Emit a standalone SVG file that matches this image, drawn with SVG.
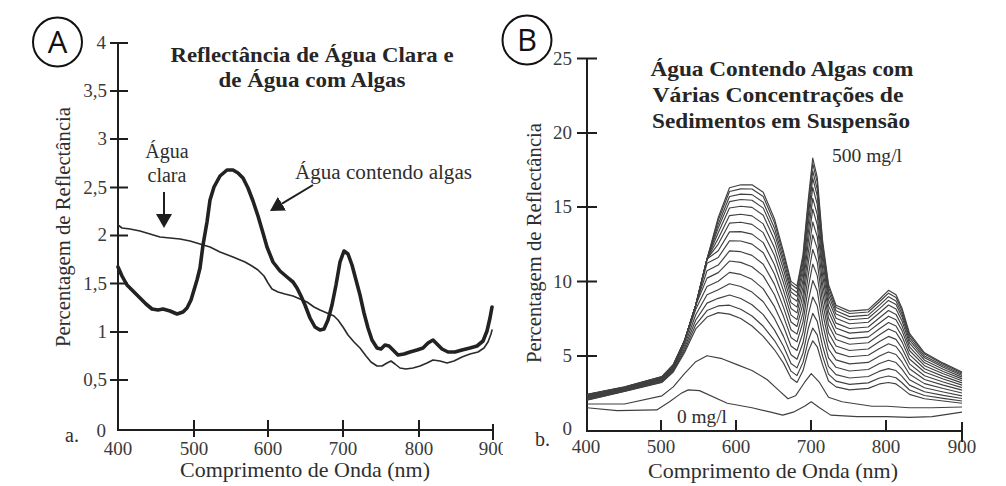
<svg xmlns="http://www.w3.org/2000/svg" width="1006" height="486" viewBox="0 0 1006 486">
<style>
.ax{stroke:#1e1e1e;stroke-width:2;fill:none}
.tk{font-family:"Liberation Serif","Times New Roman",serif;font-size:19px;fill:#3a3a3a}
.tkr{text-anchor:end}
.tkm{text-anchor:middle}
.ttl{font-family:"Liberation Serif","Times New Roman",serif;font-weight:bold;fill:#262626;text-anchor:middle}
.lbl{font-family:"Liberation Serif","Times New Roman",serif;fill:#2e2e2e}
.circ{fill:none;stroke:#111;stroke-width:2}
.circt{font-family:"Open Sans","Noto Sans",sans-serif;font-size:31px;fill:#111;text-anchor:middle}
.thin{fill:none;stroke:#2a2a2a;stroke-width:1.6;stroke-linejoin:round;stroke-linecap:round}
.thick{fill:none;stroke:#222;stroke-width:3.6;stroke-linejoin:round;stroke-linecap:round}
.fam{fill:none;stroke:#404040;stroke-width:1.15;stroke-linejoin:round;vector-effect:non-scaling-stroke}
.arr{stroke:#1e1e1e;stroke-width:2;fill:none}
</style>
<defs>
<marker id="ah" markerUnits="userSpaceOnUse" markerWidth="14" markerHeight="16" viewBox="0 0 14 16" refX="0" refY="8" orient="auto">
<path d="M0,0 L14,8 L0,16 z" fill="#1e1e1e"/>
</marker>
<clipPath id="clipA"><rect x="0" y="0" width="503" height="486"/></clipPath>
</defs>
<rect x="0" y="0" width="1006" height="486" fill="#ffffff"/>

<g id="panel-a">
  <g id="badge-a">
    <circle class="circ" cx="57.5" cy="42" r="24.5"/>
    <text class="circt" x="57.5" y="53">A</text>
  </g>
  <g id="title-a">
    <text class="ttl" x="312" y="62" font-size="22" textLength="283" lengthAdjust="spacingAndGlyphs">Reflectância de Água Clara e</text>
    <text class="ttl" x="312" y="87" font-size="22" textLength="187" lengthAdjust="spacingAndGlyphs">de Água com Algas</text>
  </g>
  <g id="axes-a">
    <path class="ax" d="M118,43 V431 M117,430 H493"/>
    <path class="ax" d="M110,43 H128 M110,91 H128 M110,139 H128 M110,187.5 H128 M110,235.5 H128 M110,283.5 H128 M110,332 H128 M110,380 H128"/>
    <path class="ax" d="M194,420 V437 M268,420 V437 M343,420 V437 M419,420 V437 M493,424 V440"/>
    <text class="tk tkr" x="106" y="49" font-size="16">4</text>
    <text class="tk tkr" x="107" y="97">3,5</text>
    <text class="tk tkr" x="107" y="145">3</text>
    <text class="tk tkr" x="107" y="194">2,5</text>
    <text class="tk tkr" x="107" y="241">2</text>
    <text class="tk tkr" x="107" y="290">1,5</text>
    <text class="tk tkr" x="107" y="338">1</text>
    <text class="tk tkr" x="107" y="386">0,5</text>
    <text class="tk tkr" x="106" y="437">0</text>
    <text class="tk tkm" x="118" y="455">400</text>
    <text class="tk tkm" x="194" y="455">500</text>
    <text class="tk tkm" x="268" y="455">600</text>
    <text class="tk tkm" x="343" y="455">700</text>
    <text class="tk tkm" x="419" y="455">800</text>
    <text class="tk tkm" x="493" y="455" clip-path="url(#clipA)">900</text>
    <text class="lbl" x="65" y="442" font-size="20">a.</text>
    <text class="lbl" x="305" y="477" font-size="22" text-anchor="middle" textLength="250" lengthAdjust="spacingAndGlyphs">Comprimento de Onda (nm)</text>
    <text class="lbl" transform="translate(70,227) rotate(-90)" font-size="21" text-anchor="middle" textLength="240" lengthAdjust="spacingAndGlyphs">Percentagem de Reflectância</text>
  </g>
  <g id="curve-clear-water">
    <polyline class="thin" points="118,225 122,228 130,229 140,231 150,234 160,237 170,238 180,239 190,241 200,244 210,247 220,252 233,257 245,262 252,266 258,270 264,276 268,283 272,289 278,292 285,294 293,296 300,299 307,302 314,307 320,310 327,313 334,316 338,320 343,327 348,335 354,342 360,348 366,356 371,362 377,366 382,366 387,363 391,361 395,364 400,368 406,369 413,368 420,366 427,363 433,360 440,361 447,363 454,361 462,357 470,354 478,352 484,348 488,342 491,334 492,330"/>
  </g>
  <g id="curve-algae-water">
    <polyline class="thick" points="118,267 122,276 127,285 134,292 140,298 146,304 152,309 158,310 163,309 170,311 177,314 183,312 187,308 191,300 194,290 197,280 200,268 203,245 207,222 210,200 214,187 220,176 227,170 233,170 238,173 243,178 248,188 253,201 258,216 263,233 267,247 273,262 280,271 287,277 293,282 297,288 301,296 305,305 310,318 315,327 320,330 324,329 328,320 332,305 336,285 340,262 344,251 348,254 352,265 356,280 360,295 364,313 368,328 372,340 377,348 381,349 385,345 389,346 393,350 398,355 404,354 410,352 417,350 423,348 428,343 433,340 437,344 442,349 448,352 455,352 462,350 470,348 477,346 483,341 487,331 490,318 492,307"/>
  </g>
  <g id="label-clear">
    <text class="lbl" x="167" y="158" font-size="20" text-anchor="middle">Água</text>
    <text class="lbl" x="167" y="182" font-size="20" text-anchor="middle">clara</text>
  </g>
  <g id="label-algae">
    <text class="lbl" x="295" y="179" font-size="20" textLength="177" lengthAdjust="spacingAndGlyphs">Água contendo algas</text>
  </g>
</g>

<g id="connectors">
  <line class="arr" x1="164" y1="192" x2="164" y2="214" marker-end="url(#ah)"/>
  <line class="arr" x1="313" y1="185" x2="282" y2="203.7" marker-end="url(#ah)"/>
</g>

<g id="panel-b">
  <g id="badge-b">
    <circle class="circ" cx="527" cy="40" r="24.5"/>
    <text class="circt" x="527" y="51">B</text>
  </g>
  <g id="title-b">
    <text class="ttl" x="782" y="76" font-size="21" textLength="263" lengthAdjust="spacingAndGlyphs">Água Contendo Algas com</text>
    <text class="ttl" x="778" y="102" font-size="21" textLength="251" lengthAdjust="spacingAndGlyphs">Várias Concentrações de</text>
    <text class="ttl" x="781" y="128" font-size="21" textLength="258" lengthAdjust="spacingAndGlyphs">Sedimentos em Suspensão</text>
  </g>
  <g id="axes-b">
    <path class="ax" d="M587,58 V432 M586,431 H962"/>
    <path class="ax" d="M577,58.5 H597 M577,133 H597 M577,207 H597 M577,281.5 H597 M577,356 H597"/>
    <path class="ax" d="M661,420 V432 M736,420 V432 M811,420 V432 M886,420 V432 M962,422 V442"/>
    <text class="tk tkr" x="572" y="65">25</text>
    <text class="tk tkr" x="572" y="139">20</text>
    <text class="tk tkr" x="572" y="213">15</text>
    <text class="tk tkr" x="572" y="288">10</text>
    <text class="tk tkr" x="572" y="362">5</text>
    <text class="tk tkr" x="572" y="435">0</text>
    <text class="tk tkm" x="586" y="453">400</text>
    <text class="tk tkm" x="661" y="453">500</text>
    <text class="tk tkm" x="736" y="453">600</text>
    <text class="tk tkm" x="811" y="453">700</text>
    <text class="tk tkm" x="886" y="453">800</text>
    <text class="tk tkm" x="962" y="453">900</text>
    <text class="lbl" x="535" y="446" font-size="20">b.</text>
    <text class="lbl" x="773" y="478" font-size="22" text-anchor="middle" textLength="250" lengthAdjust="spacingAndGlyphs">Comprimento de Onda (nm)</text>
    <text class="lbl" transform="translate(541,243) rotate(-90)" font-size="21" text-anchor="middle" textLength="240" lengthAdjust="spacingAndGlyphs">Percentagem de Reflectância</text>
  </g>
  <g id="curves-b" transform="translate(587,430) scale(0.75,-14.86)">
    <polyline class="fam" points="0,1.5 40,1.3 93,1.35 110,1.9 125,2.45 135,2.7 150,2.65 187,1.8 220,1.5 245,1.2 261,1.0 275,1.2 290,1.6 299,1.9 310,1.5 325,1.0 360,0.9 400,0.9 430,0.85 460,0.9 500,1.2"/>
    <polyline class="fam" points="0,1.75 50,1.75 100,2.3 115,2.9 130,3.8 145,4.6 160,5.0 180,4.8 200,4.4 220,4.0 240,3.4 255,2.7 268,2.1 278,2.3 290,3.2 299,3.8 310,3.2 322,2.2 340,1.9 360,1.75 380,1.6 400,1.6 430,1.5 460,1.5 500,1.55"/>
    <polyline class="fam" points="0,2.0 50,2.6 100,3.2 115,3.9 130,5.2 145,6.8 160,7.6 175,7.9 190,7.8 205,7.5 220,7.0 235,6.3 250,5.4 262,4.5 272,3.5 280,3.2 288,4.0 295,5.3 301,6.0 307,5.6 314,4.4 322,3.3 332,2.9 350,2.7 375,2.8 390,3.1 402,3.2 412,3.1 420,2.8 430,2.4 450,2.1 475,1.95 500,1.8"/>
    <polyline class="fam" points="0,2.03 50,2.62 100,3.23 115,3.94 130,5.34 145,7.08 160,8.04 175,8.35 190,8.4 205,8.13 220,7.67 235,6.98 250,6.02 262,5.03 272,3.96 280,3.66 288,4.55 295,6.01 301,6.86 307,6.4 314,4.99 322,3.76 332,3.29 350,3.07 375,3.17 390,3.5 402,3.63 412,3.52 420,3.18 430,2.69 450,2.32 475,2.13 500,1.95"/>
    <polyline class="fam" points="0,2.06 50,2.65 100,3.26 115,3.98 130,5.5 145,7.4 160,8.54 175,8.86 190,9.08 205,8.85 220,8.43 235,7.76 250,6.72 262,5.63 272,4.48 280,4.18 288,5.17 295,6.83 301,7.85 307,7.31 314,5.66 322,4.28 332,3.73 350,3.5 375,3.6 390,3.96 402,4.13 412,4.0 420,3.61 430,3.02 450,2.57 475,2.33 500,2.12"/>
    <polyline class="fam" points="0,2.1 50,2.67 100,3.3 115,4.02 130,5.68 145,7.76 160,9.1 175,9.44 190,9.84 205,9.66 220,9.28 235,8.63 250,7.51 262,6.3 272,5.06 280,4.76 288,5.87 295,7.75 301,8.95 307,8.34 314,6.42 322,4.86 332,4.22 350,3.97 375,4.07 390,4.47 402,4.69 412,4.54 420,4.1 430,3.38 450,2.84 475,2.56 500,2.3"/>
    <polyline class="fam" points="0,2.13 50,2.7 100,3.33 115,4.07 130,5.86 145,8.12 160,9.66 175,10.01 190,10.61 205,10.47 220,10.14 235,9.5 250,8.3 262,6.98 272,5.65 280,5.35 288,6.57 295,8.67 301,10.06 307,9.36 314,7.17 322,5.45 332,4.72 350,4.45 375,4.55 390,4.98 402,5.25 412,5.08 420,4.58 430,3.75 450,3.12 475,2.79 500,2.49"/>
    <polyline class="fam" points="0,2.17 50,2.73 100,3.37 115,4.11 130,6.0 145,8.4 160,10.22 175,10.59 190,11.37 205,11.28 220,10.99 235,10.37 250,9.1 262,7.65 272,6.23 280,5.93 288,7.28 295,9.58 301,11.17 307,10.39 314,7.93 322,6.03 332,5.21 350,4.93 375,5.03 390,5.49 402,5.8 412,5.62 420,5.07 430,4.12 450,3.4 475,3.02 500,2.68"/>
    <polyline class="fam" points="0,2.2 50,2.75 100,3.4 115,4.15 130,6.0 145,8.4 160,10.72 175,11.1 190,12.05 205,12.0 220,11.75 235,11.15 250,9.8 262,8.25 272,6.75 280,6.45 288,7.9 295,10.4 301,12.15 307,11.3 314,8.6 322,6.55 332,5.65 350,5.35 375,5.45 390,5.95 402,6.3 412,6.1 420,5.5 430,4.45 450,3.65 475,3.23 500,2.85"/>
    <polyline class="fam" points="0,2.23 50,2.77 100,3.43 115,4.19 130,6.0 145,8.4 160,11.22 175,11.61 190,12.73 205,12.72 220,12.51 235,11.93 250,10.5 262,8.85 272,7.27 280,6.97 288,8.52 295,11.22 301,13.13 307,12.21 314,9.27 322,7.07 332,6.09 350,5.77 375,5.87 390,6.41 402,6.8 412,6.58 420,5.93 430,4.78 450,3.9 475,3.43 500,3.02"/>
    <polyline class="fam" points="0,2.26 50,2.8 100,3.46 115,4.23 130,6.0 145,8.4 160,11.5 175,12.06 190,13.33 205,13.35 220,13.18 235,12.61 250,11.12 262,9.38 272,7.73 280,7.43 288,9.07 295,11.93 301,14.0 307,13.01 314,9.86 322,7.53 332,6.48 350,6.15 375,6.25 390,6.81 402,7.23 412,7.0 420,6.31 430,5.07 450,4.12 475,3.61 500,3.17"/>
    <polyline class="fam" points="0,2.29 50,2.82 100,3.49 115,4.26 130,6.0 145,8.4 160,11.5 175,12.51 190,13.92 205,13.98 220,13.84 235,13.28 250,11.74 262,9.9 272,8.18 280,7.88 288,9.62 295,12.64 301,14.86 307,13.81 314,10.45 322,7.98 332,6.86 350,6.52 375,6.62 390,7.2 402,7.66 412,7.42 420,6.69 430,5.35 450,4.33 475,3.79 500,3.31"/>
    <polyline class="fam" points="0,2.31 50,2.83 100,3.51 115,4.29 130,6.0 145,8.4 160,11.5 175,12.89 190,14.43 205,14.52 220,14.41 235,13.87 250,12.26 262,10.35 272,8.57 280,8.27 288,10.08 295,13.26 301,15.59 307,14.49 314,10.95 322,8.37 332,7.19 350,6.83 375,6.93 390,7.55 402,8.04 412,7.78 420,7.01 430,5.6 450,4.52 475,3.94 500,3.44"/>
    <polyline class="fam" points="0,2.34 50,2.85 100,3.54 115,4.32 130,6.0 145,8.4 160,11.5 175,13.28 190,14.94 205,15.06 220,14.98 235,14.45 250,12.79 262,10.8 272,8.96 280,8.66 288,10.55 295,13.87 301,16.33 307,15.18 314,11.46 322,8.76 332,7.52 350,7.15 375,7.25 390,7.89 402,8.41 412,8.14 420,7.34 430,5.84 450,4.7 475,4.09 500,3.56"/>
    <polyline class="fam" points="0,2.36 50,2.87 100,3.56 115,4.35 130,6.0 145,8.4 160,11.5 175,13.6 190,15.37 205,15.51 220,15.46 235,14.93 250,13.23 262,11.18 272,9.29 280,8.99 288,10.94 295,14.38 301,16.95 307,15.75 314,11.88 322,9.09 332,7.8 350,7.42 375,7.52 390,8.17 402,8.72 412,8.44 420,7.61 430,6.05 450,4.86 475,4.22 500,3.67"/>
    <polyline class="fam" points="0,2.37 50,2.88 100,3.57 115,4.37 130,6.0 145,8.4 160,11.5 175,13.85 190,15.71 205,15.87 220,15.84 235,15.32 250,13.58 262,11.48 272,9.55 280,9.25 288,11.25 295,14.79 301,17.44 307,16.2 314,12.21 322,9.35 332,8.02 350,7.63 375,7.73 390,8.4 402,8.97 412,8.68 420,7.82 430,6.21 450,4.98 475,4.32 500,3.75"/>
    <polyline class="fam" points="0,2.39 50,2.89 100,3.59 115,4.39 130,6.0 145,8.4 160,11.5 175,14.11 190,16.05 205,16.23 220,16.22 235,15.71 250,13.94 262,11.78 272,9.81 280,9.51 288,11.57 295,15.19 301,17.93 307,16.66 314,12.55 322,9.61 332,8.24 350,7.84 375,7.94 390,8.63 402,9.21 412,8.92 420,8.04 430,6.38 450,5.11 475,4.42 500,3.84"/>
    <polyline class="fam" points="0,2.4 50,2.9 100,3.6 115,4.4 130,6.0 145,8.4 160,11.5 175,14.3 190,16.3 205,16.5 220,16.5 235,16.0 250,14.2 262,12.0 272,10.0 280,9.7 288,11.8 295,15.5 301,18.3 307,17.0 314,12.8 322,9.8 332,8.4 350,8.0 375,8.1 390,8.8 402,9.4 412,9.1 420,8.2 430,6.5 450,5.2 475,4.5 500,3.9"/>
  </g>
  <g id="label-500">
    <text class="lbl" x="832" y="162" font-size="19" textLength="70" lengthAdjust="spacingAndGlyphs">500 mg/l</text>
  </g>
  <g id="label-0">
    <text class="lbl" x="677" y="423" font-size="19" textLength="50" lengthAdjust="spacingAndGlyphs">0 mg/l</text>
  </g>
</g>
</svg>
